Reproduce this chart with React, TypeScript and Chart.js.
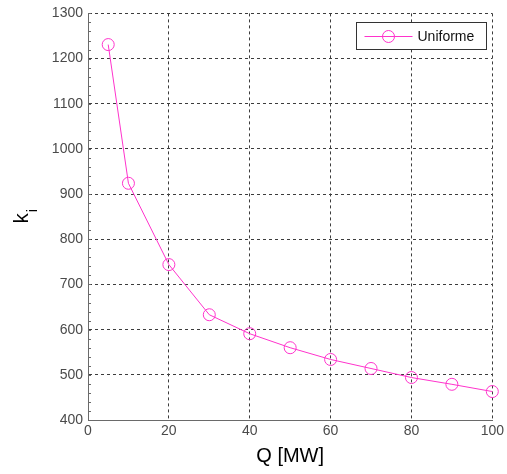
import React, { useEffect, useRef } from "react";
import { Chart, registerables } from "chart.js";

Chart.register(...registerables);

// ---- data ----
const Q_MW = [5, 10, 20, 30, 40, 50, 60, 70, 80, 90, 100];
const K_I = [1231, 924, 744, 633, 591, 560, 534, 514, 494, 479, 463];
const SERIES_LABEL = "Uniforme";
const X_LABEL = "Q [MW]";
const Y_LABEL_MAIN = "k";
const Y_LABEL_SUB = "i";
const X_MIN = 0;
const X_MAX = 100;
const X_STEP = 20;
const Y_MIN = 400;
const Y_MAX = 1300;
const Y_STEP = 100;
const Y_MINOR_STEP = 20;

const FONT = "Arial, 'Liberation Sans', sans-serif";
const MAGENTA = "rgb(255, 51, 204)";
const GRID = "#3c3c3c";
const AXIS = "#6a6a6a";
const TICK_TEXT = "#4a4a4a";

const overlayPlugin = {
  id: "overlay",
  afterDraw(chart: any) {
    const ctx = chart.ctx as CanvasRenderingContext2D;
    const ys = chart.scales.y;
    const area = chart.chartArea;
    ctx.save();

    // minor ticks on y axis (inside)
    ctx.strokeStyle = AXIS;
    ctx.lineWidth = 1;
    for (let v = Y_MIN; v <= Y_MAX; v += Y_MINOR_STEP) {
      const y = Math.round(ys.getPixelForValue(v)) + 0.5;
      ctx.beginPath();
      ctx.moveTo(area.left, y);
      ctx.lineTo(area.left + 3, y);
      ctx.stroke();
    }

    // y axis title k_i (rotated)
    ctx.fillStyle = "#000";
    ctx.textBaseline = "alphabetic";
    ctx.textAlign = "left";
    const mainFont = `20px ${FONT}`;
    const subFont = `14px ${FONT}`;
    ctx.font = mainFont;
    const wk = ctx.measureText(Y_LABEL_MAIN).width;
    ctx.font = subFont;
    const wi = ctx.measureText(Y_LABEL_SUB).width;
    const total = wk + wi;
    const cy = (area.top + area.bottom) / 2;
    ctx.save();
    ctx.translate(28, cy);
    ctx.rotate(-Math.PI / 2);
    ctx.font = mainFont;
    ctx.fillText(Y_LABEL_MAIN, -total / 2, 0);
    ctx.font = subFont;
    ctx.fillText(Y_LABEL_SUB, -total / 2 + wk + 1, 9);
    ctx.restore();

    // legend box
    const bw = 130;
    const bh = 27;
    const bx = Math.round(area.right - 136) + 0.5;
    const by = Math.round(area.top + 9) + 0.5;
    ctx.fillStyle = "#fff";
    ctx.fillRect(bx, by, bw, bh);
    ctx.strokeStyle = "#333";
    ctx.lineWidth = 1;
    ctx.strokeRect(bx, by, bw, bh);
    const my = Math.round(by + bh / 2) + 0.5;
    ctx.strokeStyle = MAGENTA;
    ctx.beginPath();
    ctx.moveTo(bx + 8, my);
    ctx.lineTo(bx + 56, my);
    ctx.stroke();
    ctx.beginPath();
    ctx.arc(bx + 32, my, 6, 0, Math.PI * 2);
    ctx.stroke();
    ctx.fillStyle = "#111";
    ctx.font = `14px ${FONT}`;
    ctx.textBaseline = "middle";
    ctx.fillText(chart.data.datasets[0].label, bx + 61, my + 1);

    ctx.restore();
  },
};

export default function App() {
  const ref = useRef<HTMLCanvasElement | null>(null);

  useEffect(() => {
    if (!ref.current) return;
    const chart = new Chart(ref.current, {
      type: "line",
      data: {
        datasets: [
          {
            label: SERIES_LABEL,
            data: Q_MW.map((q, i) => ({ x: q, y: K_I[i] })),
            borderColor: MAGENTA,
            borderWidth: 1,
            backgroundColor: "rgba(0,0,0,0)",
            pointStyle: "circle",
            pointRadius: 6,
            pointBorderColor: MAGENTA,
            pointBackgroundColor: "rgba(0,0,0,0)",
            pointBorderWidth: 1,
            tension: 0,
            clip: false as any,
          },
        ],
      },
      options: {
        responsive: false,
        animation: false,
        events: [],
        layout: { padding: { top: 13, right: 14, left: 0, bottom: 0 } },
        plugins: {
          legend: { display: false },
          tooltip: { enabled: false },
        },
        scales: {
          x: {
            type: "linear",
            min: X_MIN,
            max: X_MAX,
            ticks: {
              stepSize: X_STEP,
              color: TICK_TEXT,
              font: { family: FONT, size: 14 },
              padding: 3,
              maxRotation: 0,
              callback: (v: any) => String(v),
            },
            grid: { color: GRID, lineWidth: 1, drawTicks: false },
            border: { display: true, color: AXIS, width: 1, dash: [3, 3] },
            title: {
              display: true,
              text: X_LABEL,
              color: "#000",
              font: { family: FONT, size: 20 },
              padding: { top: 0, bottom: 6 },
            },
            afterFit(scale: any) {
              scale.height = 54;
            },
          },
          y: {
            type: "linear",
            min: Y_MIN,
            max: Y_MAX,
            ticks: {
              stepSize: Y_STEP,
              color: TICK_TEXT,
              font: { family: FONT, size: 14 },
              padding: 5,
              callback: (v: any) => String(v),
            },
            grid: { color: GRID, lineWidth: 1, drawTicks: false },
            border: { display: true, color: AXIS, width: 1, dash: [3, 3] },
            afterFit(scale: any) {
              scale.width = 88;
            },
          },
        },
      },
      plugins: [overlayPlugin],
    });
    return () => chart.destroy();
  }, []);

  return (
    <div style={{ position: "absolute", left: 0, top: 0, width: 507, height: 474, background: "#fff" }}>
      <canvas ref={ref} width={507} height={474} />
    </div>
  );
}
